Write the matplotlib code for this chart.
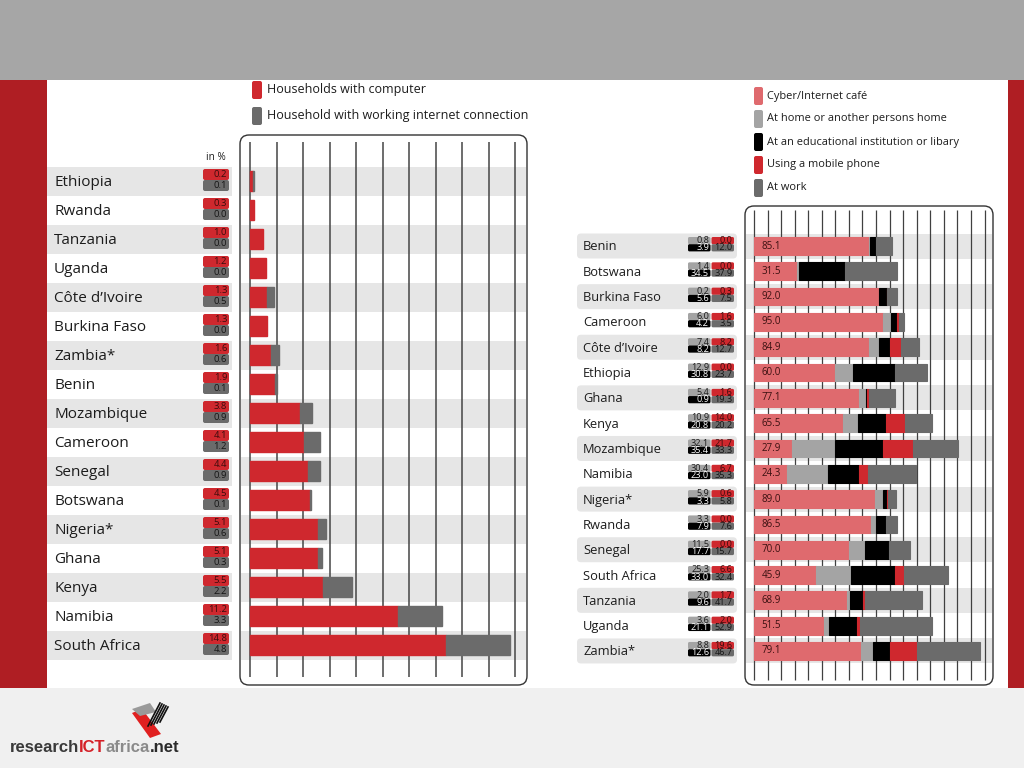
import matplotlib
matplotlib.use("Agg")
import matplotlib.pyplot as plt
from matplotlib import font_manager
from matplotlib.patches import FancyBboxPatch, Polygon, Rectangle

# household access, in %
hh_countries = ["Ethiopia", "Rwanda", "Tanzania", "Uganda", "Côte d’Ivoire", "Burkina Faso",
                "Zambia*", "Benin", "Mozambique", "Cameroon", "Senegal", "Botswana",
                "Nigeria*", "Ghana", "Kenya", "Namibia", "South Africa"]
hh_computer = [0.2, 0.3, 1.0, 1.2, 1.3, 1.3, 1.6, 1.9, 3.8, 4.1, 4.4, 4.5, 5.1, 5.1, 5.5, 11.2, 14.8]
hh_internet = [0.1, 0.0, 0.0, 0.0, 0.5, 0.0, 0.6, 0.1, 0.9, 1.2, 0.9, 0.1, 0.6, 0.3, 2.2, 3.3, 4.8]
hh_legend = ["Households with computer", "Household with working internet connection"]

# where internet users go online, in %
use_countries = ["Benin", "Botswana", "Burkina Faso", "Cameroon", "Côte d’Ivoire", "Ethiopia",
                 "Ghana", "Kenya", "Mozambique", "Namibia", "Nigeria*", "Rwanda", "Senegal",
                 "South Africa", "Tanzania", "Uganda", "Zambia*"]
use_cyber = [85.1, 31.5, 92.0, 95.0, 84.9, 60.0, 77.1, 65.5, 27.9, 24.3, 89.0, 86.5, 70.0,
             45.9, 68.9, 51.5, 79.1]
use_home = [0.8, 1.4, 0.2, 6.0, 7.4, 12.9, 5.4, 10.9, 32.1, 30.4, 5.9, 3.3, 11.5, 25.3, 2.0, 3.6, 8.8]
use_edu = [3.9, 34.5, 5.6, 4.2, 8.2, 30.8, 0.9, 20.8, 35.4, 23.0, 3.3, 7.9, 17.7, 33.0, 9.6, 21.1, 12.6]
use_mobile = [0.0, 0.0, 0.3, 1.6, 8.2, 0.0, 1.6, 14.0, 21.7, 6.7, 0.6, 0.0, 0.0, 6.6, 1.7, 2.0, 19.6]
use_work = [12.0, 37.9, 7.5, 3.5, 12.7, 23.7, 19.3, 20.2, 33.3, 35.3, 5.8, 7.6, 15.7, 32.4,
            41.7, 52.9, 46.7]
use_legend = ["Cyber/Internet café", "At home or another persons home",
              "At an educational institution or libary", "Using a mobile phone", "At work"]

RED = "#cf282e"
DARK = "#6b6b6b"
CAFE = "#df6a6e"
HOME = "#a4a4a4"
EDU = "#000000"
BAND = "#e6e6e6"
STRIPE = "#af1e23"
INK = "#1c1c1c"
FONT = "Open Sans"


def has_font(name):
    try:
        font_manager.findfont(name, fallback_to_default=False)
        return True
    except ValueError:
        return False


LOGO_FONT = "Liberation Sans Narrow" if has_font("Liberation Sans Narrow") else "Liberation Sans"
LOGO_SIZE = 15 if LOGO_FONT == "Liberation Sans Narrow" else 12
plt.rcParams["font.family"] = [FONT, "DejaVu Sans"]

fig = plt.figure(figsize=(10.24, 7.68), dpi=100)
bg = fig.add_axes([0, 0, 1, 1])  # pixel canvas for all the decoration
bg.set_xlim(0, 1024)
bg.set_ylim(768, 0)
bg.axis("off")


def box(x, y, w, h, color, r=2.0, **kw):
    bg.add_patch(FancyBboxPatch((x, y), w, h, boxstyle=f"round,pad=0,rounding_size={r}",
                                fc=color, ec="none", **kw))


def frame(x, y, w, h):
    bg.add_patch(FancyBboxPatch((x, y), w, h, boxstyle="round,pad=0,rounding_size=9",
                                fill=False, ec="#333333", lw=1.0, zorder=5))


def px_axes(x0, y0, x1, y1):
    ax = fig.add_axes([x0 / 1024, 1 - y1 / 768, (x1 - x0) / 1024, (y1 - y0) / 768])
    ax.axis("off")
    return ax


# page
bg.add_patch(Rectangle((0, 0), 1024, 80, fc="#a6a6a6", ec="none"))
bg.add_patch(Rectangle((0, 688), 1024, 80, fc="#f0f0f0", ec="none"))
bg.add_patch(Rectangle((0, 80), 47, 608, fc=STRIPE, ec="none"))
bg.add_patch(Rectangle((1008, 80), 16, 608, fc=STRIPE, ec="none"))

# ---------------- left: household access
L_X0, L_PPU = 250, 13.25   # pixel of 0 %, pixels per %
L_Y0, L_ROW = 181, 29.0    # pixel of first row, row pitch

for k, (lab, col) in enumerate(zip(hh_legend, [RED, DARK])):
    y = 90 + 26 * k
    box(252, y - 9, 10, 18, col)
    bg.text(267, y, lab, fontsize=9.0, va="center", color=INK)
bg.text(226, 157, "in %", fontsize=7.2, ha="right", va="center", color=INK)

for i, name in enumerate(hh_countries):
    yc = L_Y0 + i * L_ROW
    if i % 2 == 0:
        bg.add_patch(Rectangle((47, yc - 14.5), 185, 29, fc=BAND, ec="none"))
        bg.add_patch(Rectangle((241, yc - 14.5), 285, 29, fc=BAND, ec="none"))
    bg.text(54, yc + 1.5, name, fontsize=11.0, va="center", color=INK)
    box(203, yc - 12, 26, 11, RED)
    box(203, yc - 1, 26, 11, DARK)
    bg.text(227, yc - 6.3, f"{hh_computer[i]:.1f}", fontsize=6.8, ha="right", va="center",
            color="#3a0c0c")
    bg.text(227, yc + 4.7, f"{hh_internet[i]:.1f}", fontsize=6.8, ha="right", va="center",
            color="#151515")
frame(240, 135, 287, 550)

axL = px_axes(240, 135, 527, 685)
axL.set_xlim((240 - L_X0) / L_PPU, (527 - L_X0) / L_PPU)
axL.set_ylim((685 - L_Y0) / L_ROW, (135 - L_Y0) / L_ROW)
rows = range(len(hh_countries))
axL.vlines(range(0, 21, 2), (142 - L_Y0) / L_ROW, (677 - L_Y0) / L_ROW,
           color="#454545", lw=1.1, zorder=1)
axL.barh(rows, hh_computer, height=0.72, color=RED, ec=RED, lw=1, zorder=2)
axL.barh(rows, hh_internet, left=hh_computer, height=0.72, color=DARK, ec=DARK,
         lw=[1 if v > 0 else 0 for v in hh_internet], zorder=2)

# ---------------- right: place of internet use
R_X0, R_PPU = 754, 1.356
R_Y0, R_ROW = 246, 25.31
seg_colors = [CAFE, HOME, EDU, RED, DARK]

for k, (lab, col) in enumerate(zip(use_legend, seg_colors)):
    y = 96 + 23 * k
    box(754, y - 9, 9, 18, col)
    bg.text(767, y, lab, fontsize=7.9, va="center", color=INK)

for i, name in enumerate(use_countries):
    yc = R_Y0 + i * R_ROW
    if i % 2 == 0:
        box(577, yc - 12.5, 160, 25, BAND, r=4)
        bg.add_patch(Rectangle((746, yc - 12.5), 246, 25, fc=BAND, ec="none"))
    bg.text(583, yc + 1, name, fontsize=9.3, va="center", color=INK)
    cells = [(688, yc - 9, HOME, use_home[i], INK),
             (688, yc - 1.8, EDU, use_edu[i], "white"),
             (711.5, yc - 9, RED, use_mobile[i], "#3a0c0c"),
             (711.5, yc - 1.8, DARK, use_work[i], "#151515")]
    for x, y, col, v, tc in cells:
        box(x, y, 22.5, 7.2, col, r=1.5)
        bg.text(x + 21, y + 3.8, f"{v:.1f}", fontsize=6.6, ha="right", va="center", color=tc)
frame(745, 206, 248, 479)

axR = px_axes(745, 206, 993, 685)
axR.set_xlim((745 - R_X0) / R_PPU, (993 - R_X0) / R_PPU)
axR.set_ylim((685 - R_Y0) / R_ROW, (206 - R_Y0) / R_ROW)
rows = range(len(use_countries))
axR.vlines(range(0, 171, 10), (210 - R_Y0) / R_ROW, (680 - R_Y0) / R_ROW,
           color="#404040", lw=0.9, zorder=1)
left = [0.0] * len(use_countries)
for vals, col in zip([use_cyber, use_home, use_edu, use_mobile, use_work], seg_colors):
    axR.barh(rows, vals, left=left, height=0.7, color=col, ec=col,
             lw=[0.8 if v > 0 else 0 for v in vals], zorder=2)
    left = [a + b for a, b in zip(left, vals)]
for i, v in enumerate(use_cyber):
    axR.annotate(f"{v:.1f}", (0, i), xytext=(5.5, 0), textcoords="offset points",
                 va="center", fontsize=7.0, color="#3a1010", zorder=3)

# ---------------- logo
t = bg.text(10, 755, "research", fontsize=LOGO_SIZE, fontweight="bold", family=LOGO_FONT,
            color="#3a3a3a", va="bottom")
for part, col in [("ICT", "#d42027"), ("africa", "#8a8a8a"), (".net", "#2a2a2a")]:
    t = bg.annotate(part, xy=(1, 0), xycoords=t, fontsize=LOGO_SIZE, fontweight="bold",
                    family=LOGO_FONT, color=col, va="bottom")
bg.add_patch(Polygon([(132, 713), (142, 709), (161, 734), (150, 738)], fc="#e02020", ec="none"))
bg.add_patch(Polygon([(132, 709), (150, 703), (156, 712), (140, 716)], fc="#9a9a9a", ec="none"))
for d in range(5):
    bg.plot([148 + 3 * d, 160 + 2 * d], [726 - d, 703 + d], color="#111111", lw=1.2)

fig.savefig("out.png", dpi=100)
